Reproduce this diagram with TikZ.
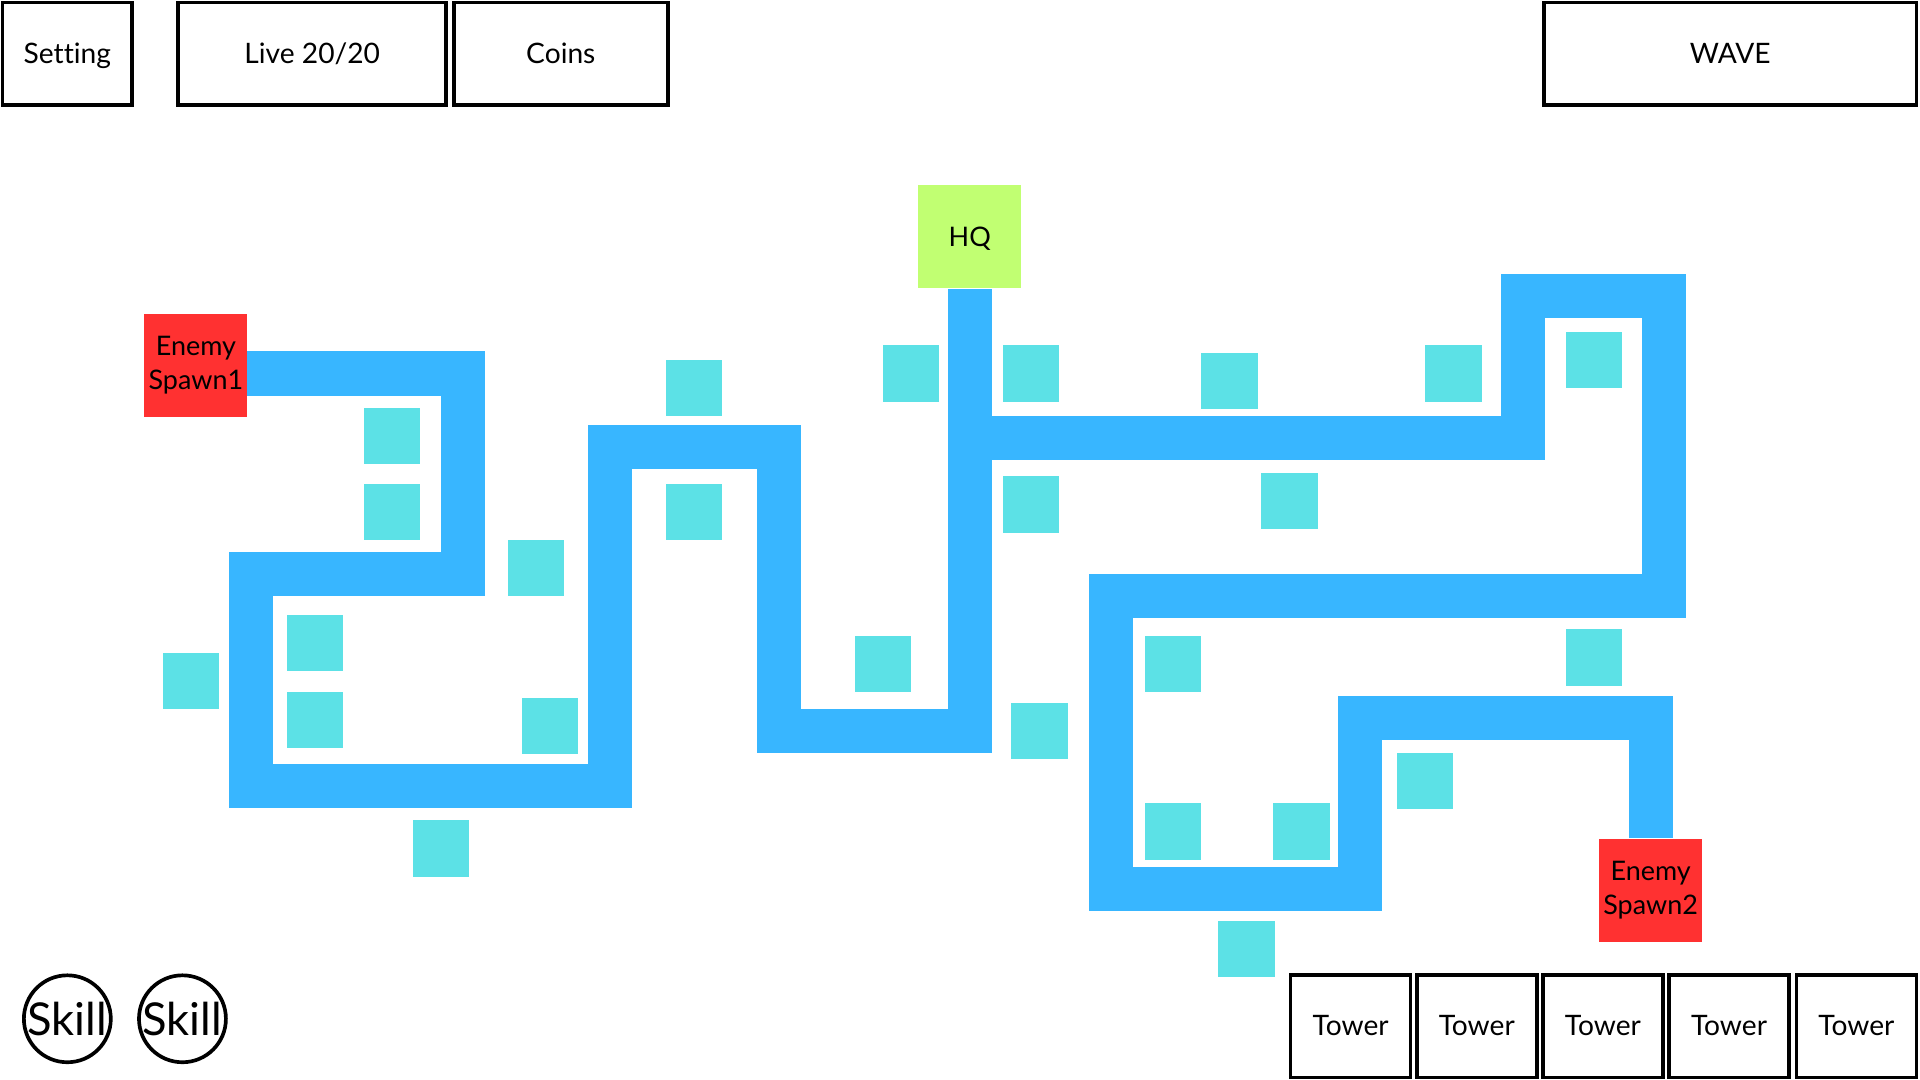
\documentclass[tikz,border=0pt]{standalone}
\usepackage{fontspec}
\setmainfont[Ligatures=NoCommon]{Lato}
\definecolor{roadblue}{HTML}{38B6FF}
\definecolor{slotcyan}{HTML}{5CE1E6}
\definecolor{spawnred}{HTML}{FF3131}
\definecolor{hqgreen}{HTML}{C1FF72}

\tikzset{every picture/.style={line width=0.75pt}}
\tikzset{
	hudbox/.style={draw=black, line width=3pt, minimum height=84pt, inner sep=0pt, text height=16pt, text depth=0pt, font=\fontsize{23}{28}\selectfont},
	skillbtn/.style={draw=black, circle, line width=3pt, minimum size=71pt, inner sep=0pt, font=\fontsize{37}{40}\selectfont},
	spawnbox/.style={fill=spawnred, minimum size=84pt, inner sep=0pt, align=center, font=\fontsize{22}{28}\selectfont},
	hqbox/.style={fill=hqgreen, minimum size=84pt, inner sep=0pt, text height=16pt, text depth=0pt, font=\fontsize{22}{28}\selectfont},
	slot/.style={fill=slotcyan, minimum size=46pt, inner sep=0pt},
	road/.style={draw=roadblue, line width=36pt, line join=miter}
}

\begin{document}
\begin{tikzpicture}[x=1pt,y=1pt,yscale=-1,xscale=1]
		\useasboundingbox (0,0) rectangle (1568,882);
		
		% road
		\draw [road] (202,305) -- (378,305) -- (378,469) -- (205,469) -- (205,642) -- (498,642) -- (498,365) -- (636,365) -- (636,597) -- (792,597) -- (792,236);
		\draw [road] (792,358) -- (1244,358) -- (1244,242) -- (1359,242) -- (1359,487) -- (907,487) -- (907,726) -- (1111,726) -- (1111,586) -- (1348,586) -- (1348,684);
		
		% tower slots
		\foreach \x/\y [count=\i] in {320/356, 320/418, 438/464, 257/525, 156/556, 257/588, 449/593, 360/693, 567/317, 567/418, 721/542, 744/305, 842/305, 842/412, 849/597, 1004/311, 1053/409, 1187/305, 1302/294, 1302/537, 958/542, 958/679, 1063/679, 1164/638, 1018/775}
			\node [slot] (slot\i) at (\x,\y) {};
		
		\node [hqbox] (hq) at (792,193) {HQ};
		\node [spawnbox] (spawn1) at (160,298.5) {Enemy\\Spawn1};
		\node [spawnbox] (spawn2) at (1348,727) {Enemy\\Spawn2};
		
		% hud
		\node [hudbox, minimum width=106pt] (setting) at (55,44) {Setting};
		\node [hudbox, minimum width=219pt] (live) at (255,44) {Live 20/20};
		\node [hudbox, minimum width=175pt] (coins) at (458,44) {Coins};
		\node [hudbox, minimum width=304pt] (wave) at (1413,44) {WAVE};
		\foreach \x [count=\i] in {1103,1206,1309,1412,1516}
			\node [hudbox, minimum width=98pt] (tower\i) at (\x,838) {Tower};
		\node [skillbtn] (skill1) at (55,832) {Skill};
		\node [skillbtn] (skill2) at (149,832) {Skill};
		
	\end{tikzpicture}
\end{document}
